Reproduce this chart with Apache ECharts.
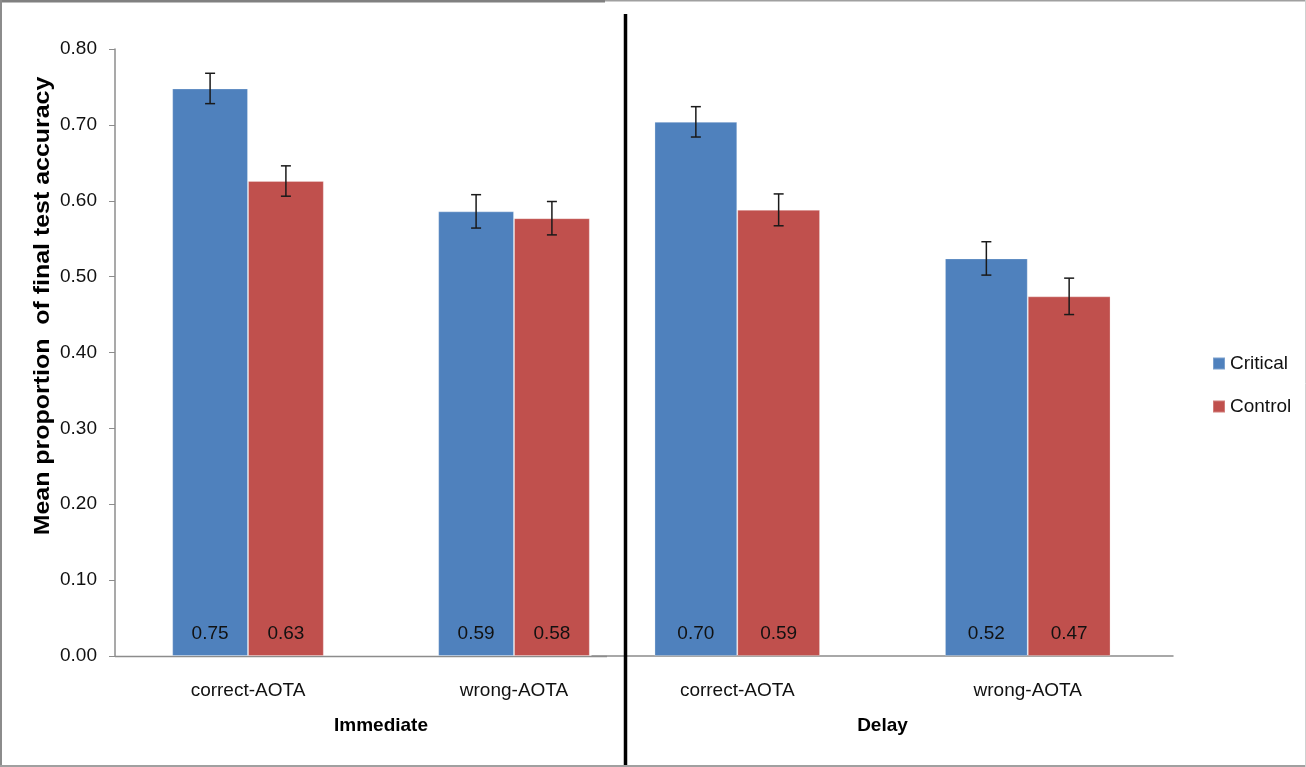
<!DOCTYPE html>
<html>
<head>
<meta charset="utf-8">
<script src="https://cdn.jsdelivr.net/npm/echarts@6/dist/echarts.min.js"></script>
<style>
html,body{margin:0;padding:0;background:#fff;}
#chart{width:1306px;height:767px;}
</style>
</head>
<body>
<div id="chart"></div>
<script>
const categories = ['correct-AOTA', 'wrong-AOTA'];
const seriesNames = ['Critical', 'Control'];
const immCritical = [0.748, 0.586];
const immControl = [0.626, 0.577];
const delCritical = [0.704, 0.524];
const delControl = [0.588, 0.474];
const immCriticalErr = [0.020, 0.022];
const immControlErr = [0.020, 0.022];
const delCriticalErr = [0.020, 0.022];
const delControlErr = [0.021, 0.024];
const yTicks = [0, 0.1, 0.2, 0.3, 0.4, 0.5, 0.6, 0.7, 0.8];
const groupNames = ['Immediate', 'Delay'];
const yTitle = 'Mean proportion  of final test accuracy';

const FONT = "'Liberation Sans', Arial, sans-serif";
const FS = 19;
const BLUE = '#4F81BD';
const RED = '#C0504D';
const BAR_FRAC = 0.285;

function errData(vals, errs) {
  return vals.map((v, i) => [i, v, errs[i]]);
}
function errRender(sign) {
  return function (params, api) {
    const i = api.value(0), v = api.value(1), e = api.value(2);
    const band = api.size([1, 0])[0];
    const dx = sign * band * BAR_FRAC / 2;
    const top = api.coord([i, v + e]);
    const bot = api.coord([i, v - e]);
    const x = top[0] + dx;
    const cap = 5;
    const st = { stroke: '#1a1a1a', lineWidth: 1.5 };
    return {
      type: 'group',
      children: [
        { type: 'line', shape: { x1: x, y1: top[1], x2: x, y2: bot[1] }, style: st },
        { type: 'line', shape: { x1: x - cap, y1: top[1], x2: x + cap, y2: top[1] }, style: st },
        { type: 'line', shape: { x1: x - cap, y1: bot[1], x2: x + cap, y2: bot[1] }, style: st }
      ]
    };
  };
}
function barSeries(name, data, color, idx) {
  return {
    name: name, type: 'bar', xAxisIndex: idx, yAxisIndex: idx,
    data: data, barWidth: (BAR_FRAC * 100) + '%', barGap: '0%',
    itemStyle: { color: color, borderColor: 'rgba(255,255,255,0.25)', borderWidth: 1 },
    label: {
      show: true, position: 'insideBottom', distance: 13,
      formatter: p => p.value.toFixed(2),
      fontSize: FS, fontFamily: FONT, color: '#111'
    },
    z: 2
  };
}
function errSeries(name, vals, errs, sign, idx) {
  return {
    name: name, type: 'custom', xAxisIndex: idx, yAxisIndex: idx,
    data: errData(vals, errs), renderItem: errRender(sign),
    encode: { x: 0, y: 1 }, z: 4, silent: true
  };
}

const yMin = yTicks[0], yMax = yTicks[yTicks.length - 1], yInt = yTicks[1] - yTicks[0];

const option = {
  backgroundColor: '#fff',
  animation: false,
  grid: [
    { left: 115, top: 49, width: 532, bottom: 111 },
    { left: 592, top: 49, width: 581, bottom: 111 }
  ],
  legend: {
    data: seriesNames, orient: 'vertical', left: 1207, top: 349,
    itemWidth: 12, itemHeight: 12, itemGap: 24, icon: 'rect',
    textStyle: { fontSize: FS, fontFamily: FONT, color: '#111' }
  },
  xAxis: [
    {
      type: 'category', gridIndex: 0, data: categories,
      axisLine: { show: false }, axisTick: { show: false },
      axisLabel: { margin: 25, fontSize: FS, fontFamily: FONT, color: '#111' },
      name: groupNames[0], nameLocation: 'middle', nameGap: 60,
      nameTextStyle: { fontSize: FS, fontFamily: FONT, fontWeight: 'bold', color: '#000' }
    },
    {
      type: 'category', gridIndex: 1, data: categories,
      axisLine: { show: true, lineStyle: { color: '#8c8c8c', width: 1.5 } }, axisTick: { show: false },
      axisLabel: { margin: 25, fontSize: FS, fontFamily: FONT, color: '#111' },
      name: groupNames[1], nameLocation: 'middle', nameGap: 60,
      nameTextStyle: { fontSize: FS, fontFamily: FONT, fontWeight: 'bold', color: '#000' }
    }
  ],
  yAxis: [
    {
      type: 'value', gridIndex: 0, min: yMin, max: yMax, interval: yInt,
      axisLine: { show: true, lineStyle: { color: '#8c8c8c', width: 1.5 } },
      axisTick: { show: true, length: 6, lineStyle: { color: '#8c8c8c' } },
      splitLine: { show: false },
      axisLabel: { margin: 18, fontSize: FS, fontFamily: FONT, color: '#111', formatter: v => v.toFixed(2) }
    },
    {
      type: 'value', gridIndex: 1, min: yMin, max: yMax, interval: yInt,
      show: false, splitLine: { show: false }
    }
  ],
  series: [
    barSeries(seriesNames[0], immCritical, BLUE, 0),
    barSeries(seriesNames[1], immControl, RED, 0),
    barSeries(seriesNames[0], delCritical, BLUE, 1),
    barSeries(seriesNames[1], delControl, RED, 1),
    errSeries('errImmCrit', immCritical, immCriticalErr, -1, 0),
    errSeries('errImmCtrl', immControl, immControlErr, 1, 0),
    errSeries('errDelCrit', delCritical, delCriticalErr, -1, 1),
    errSeries('errDelCtrl', delControl, delControlErr, 1, 1)
  ],
  graphic: [
    { type: 'line', shape: { x1: 115, y1: 656.5, x2: 607, y2: 656.5 }, style: { stroke: '#8c8c8c', lineWidth: 1.5 }, z: 1 },
    { type: 'text', x: 43, y: 306, rotation: Math.PI / 2, scaleX: 1.16,
      style: { text: yTitle, fontSize: 21.5, fontWeight: 'bold', fontFamily: FONT, fill: '#000', align: 'center', verticalAlign: 'middle' } },
    { type: 'line', shape: { x1: 625.5, y1: 14, x2: 625.5, y2: 767 }, style: { stroke: '#000', lineWidth: 3.5 }, z: 10 },
    { type: 'line', shape: { x1: 0, y1: 1, x2: 605, y2: 1 }, style: { stroke: '#808080', lineWidth: 3 }, z: 10 },
    { type: 'line', shape: { x1: 605, y1: 0.5, x2: 1306, y2: 0.5 }, style: { stroke: '#a0a0a0', lineWidth: 2 }, z: 10 },
    { type: 'line', shape: { x1: 1, y1: 0, x2: 1, y2: 767 }, style: { stroke: '#8c8c8c', lineWidth: 2 }, z: 10 },
    { type: 'line', shape: { x1: 0, y1: 766, x2: 1306, y2: 766 }, style: { stroke: '#a0a0a0', lineWidth: 2 }, z: 10 },
    { type: 'line', shape: { x1: 1305.5, y1: 0, x2: 1305.5, y2: 767 }, style: { stroke: '#d0d0d0', lineWidth: 1 }, z: 10 }
  ]
};

const chart = echarts.init(document.getElementById('chart'), null, { renderer: 'canvas' });
chart.setOption(option);
</script>
</body>
</html>
